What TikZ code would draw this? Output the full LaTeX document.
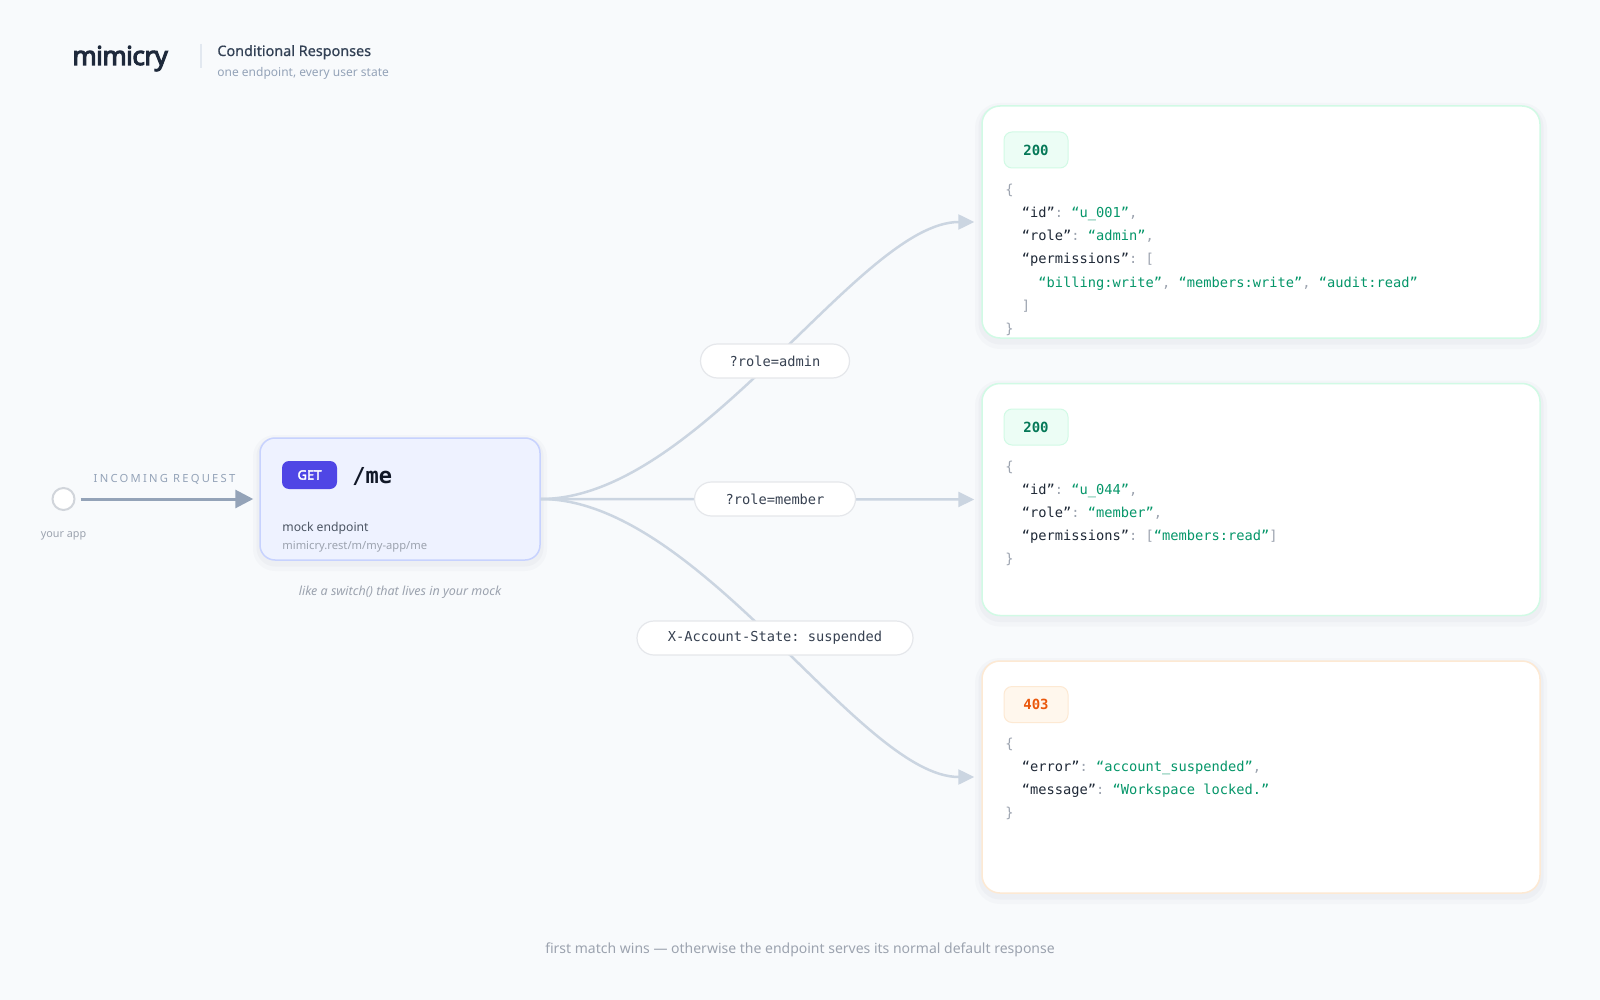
\documentclass[tikz,border=0pt]{standalone}
\usepackage{fontspec}
\setmainfont{Noto Sans}[AutoFakeBold=2.2]
\setmonofont{DejaVu Sans Mono}
\usetikzlibrary{arrows.meta}
\definecolor{bgc}{HTML}{F8FAFC}
\definecolor{ink}{HTML}{1E293B}
\definecolor{titlec}{HTML}{334155}
\definecolor{mutec}{HTML}{94A3B8}
\definecolor{softc}{HTML}{9CA3AF}
\definecolor{sepc}{HTML}{E2E8F0}
\definecolor{curvec}{HTML}{CBD5E1}
\definecolor{inarrc}{HTML}{94A3B8}
\definecolor{appc}{HTML}{D1D5DB}
\definecolor{epfill}{HTML}{EEF2FF}
\definecolor{epdraw}{HTML}{C7D2FE}
\definecolor{getc}{HTML}{4F46E5}
\definecolor{pathc}{HTML}{111827}
\definecolor{mockc}{HTML}{4B5563}
\definecolor{pillc}{HTML}{E5E7EB}
\definecolor{pilltext}{HTML}{374151}
\definecolor{okdraw}{HTML}{D1FAE5}
\definecolor{okfill}{HTML}{ECFDF5}
\definecolor{oktext}{HTML}{047857}
\definecolor{errdraw}{HTML}{FDE9D3}
\definecolor{errfill}{HTML}{FFF7ED}
\definecolor{errtext}{HTML}{EA580C}
\definecolor{jkey}{HTML}{1F2937}
\definecolor{jstr}{HTML}{059669}
\definecolor{jpun}{HTML}{9CA3AF}
\definecolor{shadc}{HTML}{64748B}
\newcommand\setfs[1]{\fontsize{#1}{#1}\selectfont}
\newcommand\jk[1]{\textcolor{jkey}{#1}}
\newcommand\js[1]{\textcolor{jstr}{#1}}
\newcommand\jp[1]{\textcolor{jpun}{#1}}
\tikzset{
  txt/.style={inner sep=0pt},
  softshadow/.style={
    preaction={draw=shadc, draw opacity=0.03, line width=7pt, transform canvas={yshift=-2pt}},
    preaction={draw=shadc, draw opacity=0.04, line width=3.5pt, transform canvas={yshift=-1.5pt}}},
  getbox/.style={softshadow, draw=epdraw, line width=0.75pt, fill=epfill, rounded corners=7.5pt,
    minimum width=140pt, minimum height=61pt},
  getbadge/.style={fill=getc, text=white, rounded corners=3.5pt, minimum width=27.5pt,
    minimum height=14pt, inner sep=0pt, font=\setfs{6.5}\addfontfeatures{FakeBold=3}},
  inarrow/.style={draw=inarrc, line width=1.5pt, -{Triangle[length=9pt,width=9pt]},
    shorten <=2.5pt, shorten >=3pt},
  branch/.style={draw=curvec, line width=1.25pt, -{Triangle[length=8pt,width=7.5pt]},
    shorten >=3.5pt},
  pill/.style={draw=pillc, line width=0.6pt, fill=white, rounded corners=8.5pt,
    minimum height=17pt, inner sep=0pt, text=pilltext, font=\ttfamily\setfs{6.85}},
  resp/.style={softshadow, draw=#1, line width=0.75pt, fill=white, rounded corners=9pt,
    minimum width=279pt, minimum height=116pt, inner sep=0pt},
  badge/.style 2 args={draw=#1, fill=#2, line width=0.5pt, rounded corners=4pt,
    minimum width=32pt, minimum height=18pt, inner sep=0pt, font=\ttfamily\bfseries\setfs{7}},
  json/.style={anchor=base west, inner sep=0pt, font=\ttfamily\setfs{6.85}}
}
\begin{document}
\begin{tikzpicture}[x=0.5pt,y=-0.5pt]
\fill[bgc] (0,0) rectangle (1600,1000);
\useasboundingbox (0,0) rectangle (1600,1000);

% header
\node[txt, anchor=base west, text=ink, font=\setfs{13}\addfontfeatures{LetterSpace=-2,FakeBold=4}] (brand) at (72,65) {mimicry};
\coordinate (sepTop) at (201,44);
\coordinate (sepBot) at (201,68);
\draw[sepc, line width=0.6pt] (sepTop) -- (sepBot);
\node[txt, anchor=base west, text=titlec, font=\setfs{7.2}\addfontfeatures{FakeBold=0.6}] (title) at (217,56) {Conditional Responses};
\node[txt, anchor=base west, text=mutec, font=\setfs{6}] (subtitle) at (217,77) {one endpoint, every user state};

% responses (boxes first)
\node[resp=okdraw] (r1) at (1261,222) {};
\node[resp=okdraw] (r2) at (1261,499.5) {};
\node[resp=errdraw] (r3) at (1261,777) {};

% endpoint
\node[getbox] (ep) at (400,499) {};
\node[getbadge] (getb) at (309.5,475) {GET};
\node[txt, anchor=base west, text=pathc, font=\ttfamily\bfseries\setfs{11}] (path) at (352,483) {/me};
\node[txt, anchor=base west, text=mockc, font=\setfs{6.1}] (mocklbl) at (282,531) {mock endpoint};
\node[txt, anchor=base west, text=softc, font=\setfs{5.6}] (url) at (282,549) {mimicry.rest/m/my-app/me};
\node[txt, text=softc, font=\itshape\setfs{6.25}] (hint) at (400,592) {like a switch() that lives in your mock};

% app
\node[circle, draw=appc, line width=1pt, fill=white, minimum size=11pt, inner sep=0pt] (app) at (63.5,499) {};
\node[txt, text=softc, font=\setfs{5.4}] (applbl) at (63.5,536) {your app};
\node[txt, text=mutec, font=\setfs{5.6}\addfontfeatures{LetterSpace=20}] (inlbl) at (164.5,479) {INCOMING REQUEST};
\draw[inarrow] (app) -- (ep);

% branches
\draw[branch] (ep.east) .. controls (700,499) and (860,222) .. (r1.west);
\draw[branch] (ep.east) -- (r2.west);
\draw[branch] (ep.east) .. controls (700,499) and (860,777) .. (r3.west);

\node[pill, minimum width=74.5pt] (c1) at (775,361) {?role=admin};
\node[pill, minimum width=80.5pt] (c2) at (775,499) {?role=member};
\node[pill, minimum width=138pt] (c3) at (775,638) {X-Account-State: suspended};

% response 1
\node[badge={okdraw}{okfill}, text=oktext] (s1) at (1036,150) {200};
\node[json] (a1) at (1005,194.5) {\jp{\{}};
\node[json] (a2) at (1021.5,217.5) {\jk{“id”}\jp{: }\js{“u\_001”}\jp{,}};
\node[json] (a3) at (1021.5,240.5) {\jk{“role”}\jp{: }\js{“admin”}\jp{,}};
\node[json] (a4) at (1021.5,263.5) {\jk{“permissions”}\jp{: [}};
\node[json] (a5) at (1038,287.5) {\js{“billing:write”}\jp{, }\js{“members:write”}\jp{, }\js{“audit:read”}};
\node[json] (a6) at (1021.5,310.5) {\jp{]}};
\node[json] (a7) at (1005,333.5) {\jp{\}}};

% response 2
\node[badge={okdraw}{okfill}, text=oktext] (s2) at (1036,427) {200};
\node[json] (b1) at (1005,471.5) {\jp{\{}};
\node[json] (b2) at (1021.5,494.5) {\jk{“id”}\jp{: }\js{“u\_044”}\jp{,}};
\node[json] (b3) at (1021.5,517.5) {\jk{“role”}\jp{: }\js{“member”}\jp{,}};
\node[json] (b4) at (1021.5,540.5) {\jk{“permissions”}\jp{: [}\js{“members:read”}\jp{]}};
\node[json] (b5) at (1005,563.5) {\jp{\}}};

% response 3
\node[badge={errdraw}{errfill}, text=errtext] (s3) at (1036,704.5) {403};
\node[json] (e1) at (1005,748.5) {\jp{\{}};
\node[json] (e2) at (1021.5,771.5) {\jk{“error”}\jp{: }\js{“account\_suspended”}\jp{,}};
\node[json] (e3) at (1021.5,794.5) {\jk{“message”}\jp{: }\js{“Workspace locked.”}};
\node[json] (e4) at (1005,817.5) {\jp{\}}};

% footer
\node[txt, text=softc, font=\setfs{7}] (foot) at (800,950) {first match wins — otherwise the endpoint serves its normal default response};
\end{tikzpicture}
\end{document}
